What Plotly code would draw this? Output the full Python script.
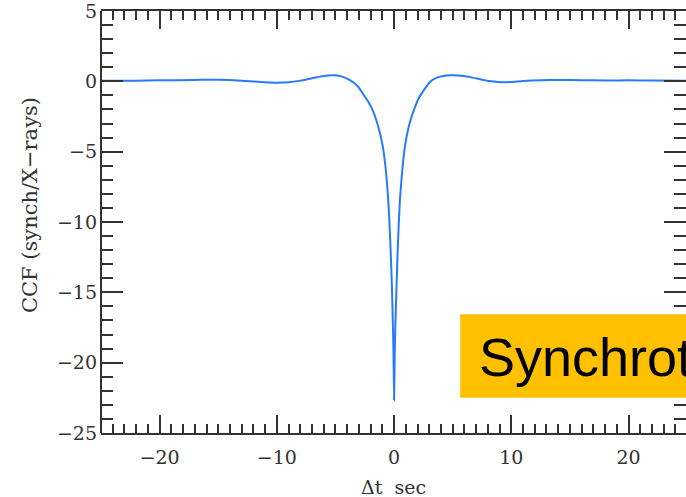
import plotly.graph_objects as go

# Cross-correlation function
dt = [-25, -22, -20, -17, -15, -13, -11, -10, -9, -8, -7, -6, -5.2, -4.5, -3.8,
      -3.1, -2.6, -2.2, -1.8, -1.5, -1.2, -0.95, -0.77, -0.62, -0.5, -0.4,
      -0.3, -0.2, -0.1, -0.05, 0,
      0.05, 0.1, 0.2, 0.3, 0.4, 0.5, 0.62, 0.77, 0.95, 1.2, 1.5, 1.8, 2.1,
      2.4, 2.75, 3.1, 3.6, 4.2, 4.8, 5.5, 6.5, 7.5, 8.5, 9.2, 10, 11, 12.5,
      14, 16, 18, 20, 22, 25]
ccf = [0.05, 0.05, 0.07, 0.1, 0.12, 0.05, -0.07, -0.1, -0.07, 0.05, 0.22, 0.38,
       0.43, 0.35, 0.1,
       -0.35, -0.95, -1.45, -2.1, -2.8, -3.7, -4.7, -5.8, -7.1, -8.4, -10.0,
       -11.9, -14.2, -17.3, -19.3, -22.65,
       -19.6, -17.6, -14.8, -12.2, -10.1, -8.4, -7.1, -5.7, -4.5, -3.4, -2.5,
       -1.8, -1.2, -0.8, -0.38, -0.02, 0.25, 0.38, 0.43, 0.42, 0.3, 0.12,
       -0.02, -0.07, -0.05, 0.02, 0.08, 0.1, 0.08, 0.06, 0.07, 0.06, 0.05]

x_ticks = [-20, -10, 0, 10, 20]
y_ticks = [-25, -20, -15, -10, -5, 0, 5]

x_title = "Δt  sec"
y_title = "CCF (synch/X−rays)"
box_text = "Synchrotron"

font_family = "DejaVu Serif"
axis_col = "#333333"

fig = go.Figure()
fig.add_trace(go.Scatter(
    x=dt, y=ccf, mode="lines",
    line=dict(color="#2979ff", width=2, shape="spline", smoothing=0.5),
    hoverinfo="skip", showlegend=False,
))

fig.update_layout(
    width=686, height=497,
    margin=dict(l=101, r=0, t=9, b=64),
    paper_bgcolor="white", plot_bgcolor="white",
    font=dict(family=font_family, size=19, color=axis_col),
    showlegend=False,
)

fig.update_xaxes(
    range=[-25, 24.9], tickvals=x_ticks,
    ticks="inside", ticklen=18, tickwidth=1.5, tickcolor=axis_col,
    showline=True, linewidth=2, linecolor=axis_col, mirror="ticks",
    showgrid=False, zeroline=False, ticklabelstandoff=6,
    ticklabeloverflow="allow",
    minor=dict(dtick=1, tick0=0, ticks="inside", ticklen=9, tickwidth=1.5,
               tickcolor=axis_col, showgrid=False),
    tickfont=dict(family=font_family, size=19, color=axis_col),
)
fig.update_yaxes(
    range=[-25, 5], tickvals=y_ticks,
    ticks="inside", ticklen=22, tickwidth=1.5, tickcolor=axis_col,
    showline=False, mirror="ticks",
    showgrid=False, zeroline=False, ticklabelstandoff=3,
    ticklabeloverflow="allow",
    minor=dict(dtick=1, tick0=0, ticks="inside", ticklen=12, tickwidth=1.5,
               tickcolor=axis_col, showgrid=False),
    tickfont=dict(family=font_family, size=19, color=axis_col),
)

# left frame line (the right one lies just outside the picture)
fig.add_shape(
    type="line", xref="paper", yref="paper", x0=0, x1=0, y0=0, y1=1,
    line=dict(color=axis_col, width=2), layer="above",
)

# axis titles
fig.add_annotation(
    text=y_title, xref="paper", yref="paper",
    x=(30 - 101) / 585, y=(433 - 204) / 424,
    xanchor="center", yanchor="middle", textangle=-90, showarrow=False,
    font=dict(family=font_family, size=21, color=axis_col),
)
fig.add_annotation(
    text=x_title, xref="paper", yref="paper",
    x=(393 - 101) / 585, y=-(487 - 433) / 424,
    xanchor="center", yanchor="middle", showarrow=False,
    font=dict(family=font_family, size=19, color=axis_col),
)

# yellow label box
fig.add_shape(
    type="rect", xref="x", yref="y",
    x0=5.64, x1=30, y0=-22.5, y1=-16.56,
    fillcolor="#ffc000", line=dict(width=0), layer="above",
)
fig.add_annotation(
    text=box_text, xref="paper", yref="paper",
    x=(477 - 101) / 585, y=(433 - 357) / 424,
    xanchor="left", yanchor="middle", showarrow=False,
    font=dict(family="Liberation Sans", size=54, color="black"),
)

fig.write_html("out.html")
